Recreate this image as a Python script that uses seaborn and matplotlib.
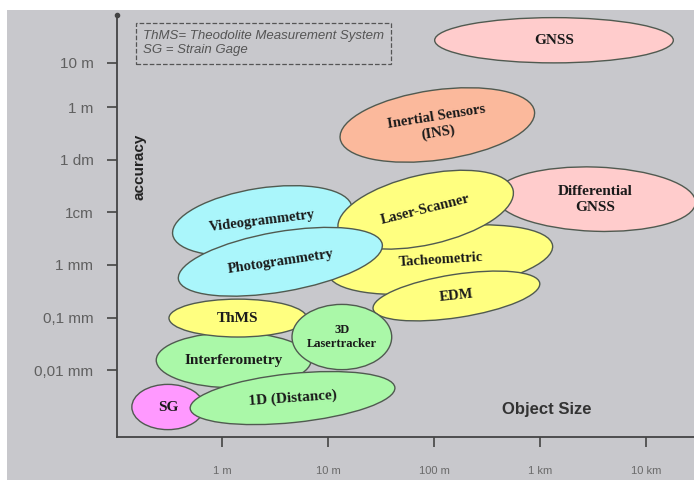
import matplotlib
matplotlib.use("Agg")
import matplotlib.pyplot as plt
import seaborn as sns
from matplotlib.patches import Ellipse, Rectangle
from matplotlib.transforms import Affine2D

# ================================
# Data: measurement techniques, accuracy vs object size
# x = log10(object size / m), y = log10(accuracy / m)
# ================================
labels = ["GNSS", "Inertial Sensors\n(INS)", "Differential\nGNSS", "Videogrammetry",
          "Tacheometric", "Laser-Scanner", "EDM", "Photogrammetry",
          "Interferometry", "ThMS", "3D\nLasertracker", "SG", "1D (Distance)"]
center_x = [3.13, 2.03, 3.52, 0.38, 2.06, 1.92, 2.21, 0.55, 0.11, 0.15, 1.13, -0.51, 0.665]
center_y = [1.27, -0.34, -1.75, -2.16, -2.90, -1.95, -3.59, -2.94, -4.81, -4.01, -4.37, -5.70, -5.53]
span_x = [2.25, 1.85, 1.89, 1.71, 2.13, 1.69, 1.59, 1.95, 1.46, 1.30, 0.94, 0.68, 1.94]
span_y = [0.86, 1.33, 1.22, 1.24, 1.22, 1.33, 0.82, 1.14, 1.05, 0.72, 1.24, 0.86, 0.93]
tilts = [0, 8, -2, 8.8, 7.2, 12.7, 8.8, 9.8, 0, 0, 0, 0, 5.9]
text_rot = [0, 9, 0, 7, 3.5, 14, 6, 8.5, 0, 0, 0, 0, 4]
text_size = [11, 10.5, 11, 10.5, 10.5, 10.5, 10.5, 10.5, 11, 11, 9, 11, 11]
fills = ["#ffcccc", "#fbb99c", "#ffcccc", "#aaf6fb", "#ffff80", "#ffff80", "#ffff80",
         "#aaf6fb", "#aaf8a8", "#ffff80", "#aaf8a8", "#ff99ff", "#aaf8a8"]

y_ticks = [0.84, 0, -1, -2, -3, -4, -5]
y_ticklabels = ["10 m", "1 m", "1 dm", "1cm", "1 mm", "0,1 mm", "0,01 mm"]
x_ticks = [0, 1, 2, 3, 4]
x_ticklabels = ["1 m", "10 m", "100 m", "1 km", "10 km"]

bg = "#c8c8cc"
sns.set_theme(style="ticks")
plt.rcParams["font.family"] = ["Liberation Sans", "DejaVu Sans"]

fig = plt.figure(figsize=(6.94, 4.8), dpi=100, facecolor="white")
fig.add_artist(Rectangle((7 / 694, 0), 1, 1 - 10 / 480, transform=fig.transFigure,
                         facecolor=bg, edgecolor="none", zorder=-5))
ax = fig.add_axes([117 / 694, 43 / 480, 577 / 694, 422 / 480])
ax.set_facecolor("none")
ax.set_xlim(-0.99, 4.45)
ax.set_ylim(-6.27, 1.75)
ax.set_autoscale_on(False)

# ellipses: axis-aligned in data units, tilted in screen space
for i, lab in enumerate(labels):
    cx, cy = ax.transData.transform((center_x[i], center_y[i]))
    tr = ax.transData + Affine2D().rotate_deg_around(cx, cy, tilts[i])
    e = Ellipse((center_x[i], center_y[i]), span_x[i], span_y[i], transform=tr,
                facecolor=fills[i], edgecolor="#505a50", linewidth=1.0,
                zorder=2 + i, clip_on=False)
    ax.add_patch(e)
    ax.text(center_x[i], center_y[i], lab, rotation=text_rot[i], rotation_mode="anchor",
            ha="center", va="center", fontsize=text_size[i], fontweight="bold",
            family="Liberation Serif", color="#1a1a1a", zorder=30, linespacing=1.3)

# axes styling
sns.despine(ax=ax)
for s in ["left", "bottom"]:
    ax.spines[s].set_color("#444444")
    ax.spines[s].set_linewidth(1.3)
ax.set_yticks(y_ticks)
ax.set_yticklabels(y_ticklabels)
ax.set_xticks(x_ticks)
ax.set_xticklabels(x_ticklabels)
ax.tick_params(axis="y", length=7, width=1.2, color="#444444", labelcolor="#606060",
               labelsize=11, pad=10)
ax.tick_params(axis="x", length=7, width=1.2, color="#444444", labelcolor="#6a6a6a",
               labelsize=8, pad=14)
ax.plot(0, 1, marker="o", markersize=3, color="#444444", transform=ax.transAxes, clip_on=False)

ax.text(-0.78, -1.14, "accuracy", rotation=90, ha="center", va="center",
        fontsize=11, fontweight="bold", color="#222222")
ax.text(3.06, -5.74, "Object Size", ha="center", va="center",
        fontsize=12, fontweight="bold", color="#333333")

ax.text(0.045, 0.965, "ThMS= Theodolite Measurement System\nSG = Strain Gage",
        transform=ax.transAxes, ha="left", va="top", fontsize=9.5, style="italic",
        color="#555555", linespacing=1.3,
        bbox=dict(boxstyle="square,pad=0.55", facecolor="none", edgecolor="#555555",
                  linestyle="--", linewidth=0.9))

fig.savefig("out.png", dpi=100, facecolor=fig.get_facecolor())
